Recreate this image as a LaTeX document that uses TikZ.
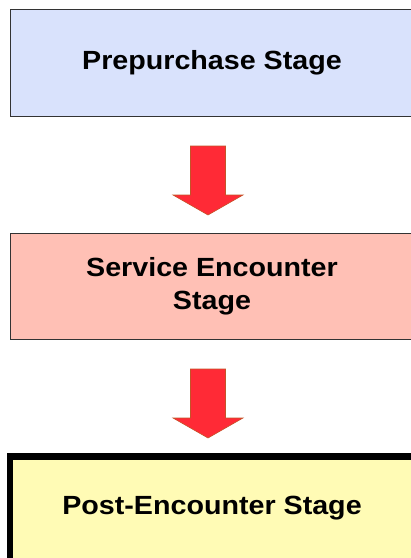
\documentclass[tikz,border=0pt]{standalone}
\usepackage{fontspec}
\newfontfamily\stagefont{Liberation Sans}[FakeStretch=1.09]
\definecolor{preblue}{RGB}{217,226,252}
\definecolor{encsalmon}{RGB}{255,192,181}
\definecolor{postyellow}{RGB}{255,251,181}
\definecolor{arrowred}{RGB}{255,42,54}
\definecolor{arrowedge}{RGB}{196,84,40}

\begin{document}
\begin{tikzpicture}[x=1pt,y=-1pt]
\tikzset{stg/.style={draw=black!80,line width=1pt,minimum width=404pt,align=center,inner sep=0pt,
                     font=\stagefont\bfseries\fontsize{26.3}{33}\selectfont},
         arw/.style={fill=arrowred,draw=arrowedge,line width=0.6pt,line join=miter}}
\useasboundingbox (0,0) rectangle (411,558);
\clip (0,0) rectangle (411,558);
\node[stg,fill=preblue,minimum height=107pt] (pre) at (212,63) {Prepurchase Stage};
\node[stg,fill=encsalmon,minimum height=106pt] (enc) at (212,286) {Service Encounter\\Stage};
\node[stg,fill=postyellow,draw=black,line width=6.5pt,minimum height=104.5pt] (post) at (212,508.5) {Post-Encounter Stage};
\coordinate (a1) at (208,146);
\coordinate (a2) at (208,369);
\draw[arw] (a1) ++(-17.5,0) -- ++(35,0) -- ++(0,49) -- ++(17.5,0) -- ++(-35,20) -- ++(-35,-20) -- ++(17.5,0) -- cycle;
\draw[arw] (a2) ++(-17.5,0) -- ++(35,0) -- ++(0,49) -- ++(17.5,0) -- ++(-35,20) -- ++(-35,-20) -- ++(17.5,0) -- cycle;
\end{tikzpicture}
\end{document}
